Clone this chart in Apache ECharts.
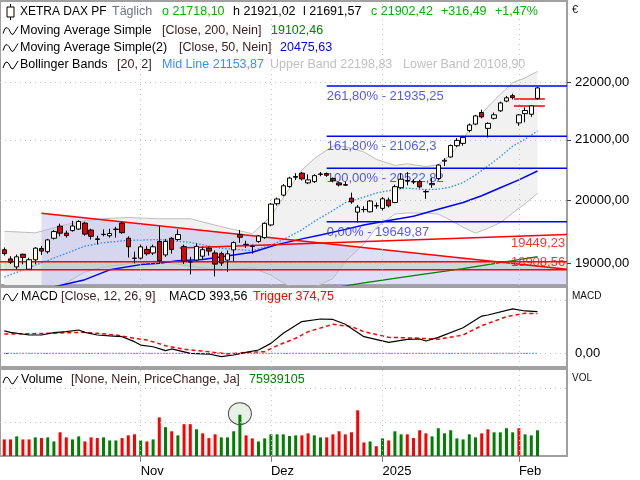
<!DOCTYPE html>
<html><head><meta charset="utf-8">
<script src="https://cdn.jsdelivr.net/npm/echarts@6/dist/echarts.min.js"></script>
<style>html,body{margin:0;padding:0;background:#fff}#c{width:640px;height:480px}</style>
</head><body><div id="c"></div>
<script>
// ---------------- DATA ----------------
const dates = [
 '2024-10-02','2024-10-03','2024-10-04','2024-10-07','2024-10-08','2024-10-09','2024-10-10','2024-10-11','2024-10-14','2024-10-15','2024-10-16','2024-10-17','2024-10-18','2024-10-21','2024-10-22','2024-10-23','2024-10-24','2024-10-25','2024-10-28','2024-10-29','2024-10-30','2024-10-31',
 '2024-11-01','2024-11-04','2024-11-05','2024-11-06','2024-11-07','2024-11-08','2024-11-11','2024-11-12','2024-11-13','2024-11-14','2024-11-15','2024-11-18','2024-11-19','2024-11-20','2024-11-21','2024-11-22','2024-11-25','2024-11-26','2024-11-27','2024-11-28','2024-11-29',
 '2024-12-02','2024-12-03','2024-12-04','2024-12-05','2024-12-06','2024-12-09','2024-12-10','2024-12-11','2024-12-12','2024-12-13','2024-12-16','2024-12-17','2024-12-18','2024-12-19','2024-12-20','2024-12-23','2024-12-27','2024-12-30',
 '2025-01-02','2025-01-03','2025-01-06','2025-01-07','2025-01-08','2025-01-09','2025-01-10','2025-01-13','2025-01-14','2025-01-15','2025-01-16','2025-01-17','2025-01-20','2025-01-21','2025-01-22','2025-01-23','2025-01-24','2025-01-27','2025-01-28','2025-01-29','2025-01-30','2025-01-31',
 '2025-02-03','2025-02-04','2025-02-05','2025-02-06'];
// [open, close, low, high]
const candles = [
 [19210,19150,19120,19245],[19068,19018,18990,19110],[18945,19100,18910,19135],[19140,19090,18985,19150],[18910,19055,18900,19085],
 [19055,19235,18990,19250],[19228,19190,19130,19270],[19180,19364,19150,19380],[19390,19495,19370,19520],[19580,19470,19420,19620],
 [19470,19432,19400,19510],[19510,19583,19495,19665],[19535,19655,19520,19675],[19630,19455,19430,19650],[19520,19421,19370,19540],
 [19380,19372,19290,19430],[19452,19448,19420,19530],[19430,19464,19400,19540],[19530,19533,19400,19570],[19630,19478,19460,19650],
 [19390,19257,19090,19420],[19080,19077,19000,19180],[19080,19255,19060,19290],[19215,19148,19120,19270],[19160,19256,19130,19290],
 [19340,19039,18995,19580],[19130,19340,19100,19380],[19390,19215,19150,19410],[19370,19448,19350,19530],[19260,19033,18990,19290],
 [19020,19024,18830,19100],[19050,19263,19020,19310],[19110,19211,19054,19260],[19234,19189,19120,19260],[19160,18988,18800,19200],
 [19150,19004,18960,19180],[19050,19146,18870,19200],[19208,19322,19030,19340],[19450,19406,19320,19520],[19290,19295,19240,19350],
 [19265,19262,19150,19290],[19340,19426,19320,19440],[19400,19626,19380,19640],[19600,19934,19580,19950],[19940,20017,19910,20040],
 [20080,20232,20060,20260],[20220,20359,20200,20380],[20372,20385,20330,20440],[20440,20346,20320,20460],[20280,20329,20260,20420],
 [20300,20399,20280,20420],[20420,20427,20390,20460],[20435,20406,20380,20450],[20350,20314,20290,20370],[20280,20246,20220,20300],
 [20250,20243,20230,20300],[20030,19970,19940,20120],[19805,19885,19640,19920],[19845,19848,19800,19900],[19810,19984,19800,20000],
 [19905,19909,19860,19960],[19865,20020,19830,20050],[20000,19906,19880,20040],[19960,20217,19950,20250],[20200,20340,20180,20440],
 [20310,20320,20240,20460],[20300,20295,20260,20340],[20300,20215,20190,20330],[20140,20133,20020,20170],[20250,20271,20200,20360],
 [20350,20575,20330,20590],[20640,20655,20560,20690],[20710,20903,20700,20920],[20900,20990,20880,21030],[20940,21042,20900,21070],
 [21160,21254,21130,21280],[21270,21411,21250,21430],[21470,21394,21370,21520],[21196,21282,21040,21300],[21370,21430,21350,21470],
 [21500,21637,21480,21660],[21670,21727,21650,21760],[21765,21732,21700,21800],[21290,21428,21240,21440],[21450,21506,21300,21560],
 [21440,21585.93,21395,21600],[21718.10,21902.42,21691.57,21921.02]];
const prevCloseBefore = 19213;
// volume in millions
const volumeMio = [49,49,58,49,49,55,53,55,43,70,55,49,58,43,55,53,55,46,46,53,61,64,46,43,49,114,85,73,61,94,94,79,67,53,64,55,55,73,122,61,52,43,52,64,64,64,59,61,61,67,61,55,55,64,73,64,70,135,40,43,29,52,46,73,64,64,53,76,67,58,82,67,76,52,49,64,55,67,79,70,70,82,70,82,64,61,75.939105];
const sma200 = [[50,18580],[58,18700],[66,18810],[74,18920],[80,19010],[86,19102.46]];
const sma50 = [[8,18640],[13,18750],[17,18900],[22,18980],[25,19000],[28,19040],[32,19060],[37,19130],[40,19170],[44,19290],[48,19380],[51,19440],[55,19530],[58,19600],[62,19670],[66,19740],[70,19850],[74,19960],[77,20070],[80,20200],[83,20330],[86,20475.63]];
const bbIdx   = [0,5,10,13,16,20,25,30,35,40,43,45,48,50,53,55,58,60,63,65,68,70,72,74,76,78,80,82,84,86];
const bbMid   = [18790,18971,19154,19267,19320,19356,19370,19325,19234,19196,19280,19369,19523,19657,19831,19956,20047,20114,20172,20193,20170,20176,20212,20286,20409,20558,20715,20893,21010,21153.87];
const bbUpper = [19500,19475,19606,19666,19700,19718,19698,19699,19573,19461,19740,20037,20491,20683,20895,20884,20795,20670,20570,20595,20550,20580,20748,21008,21347,21568,21793,21995,22080,22198.83];
const bbLower = [18080,18466,18702,18866,18940,18994,19042,18951,18894,18931,18820,18701,18555,18631,18767,19028,19299,19558,19774,19791,19790,19772,19676,19564,19471,19548,19636,19791,19940,20108.90];
const macd = [[0,212],[1,198],[4,173],[6,173],[8,195],[10,204],[12,220],[13,198],[15,173],[17,164],[19,157],[21,110],[22,78],[24,62],[26,25],[27,41],[30,0],[33,-7],[35,-32],[37,-16],[39,9],[41,31],[43,94],[45,189],[48,300],[51,324],[53,320],[55,274],[58,157],[62,104],[65,132],[67,135],[68,116],[70,151],[74,242],[77,352],[78,362],[82,419],[84,400],[86,393.56]];
const trigger = [[0,182],[4,185],[7,189],[13,198],[15,189],[18,173],[21,142],[23,126],[26,72],[29,38],[33,15],[36,-7],[39,9],[42,15],[44,72],[47,142],[49,204],[53,274],[56,252],[58,204],[62,151],[67,142],[70,132],[74,173],[77,261],[81,346],[84,378],[86,374.75]];
const fibPct = [261.8,161.8,100,0];
const fibVal = [21935.25,21062.3,20522.82,19649.87];
const fibStart = 52;
const chanUpper = [[6,19787],[90.76,18908.56]];
const riseLine = [[28.3,19239],[90.76,19449.23]];
const supportTop = 19025, supportBottom = 18900;
const gapBox = {from:82.2, to:87.2, top:21705, bottom:21583};
const priceTicks = [19000,20000,21000,22000];
const markedVolIdx = 38;

// ---------------- LAYOUT ----------------
const xMin = -0.6935, xMax = 90.76;
const priceMin = 18669, priceMax = 23501;
const fmt = v => v.toFixed(2).replace('.', ',');
const GREEN = '#00b400', RED = '#ff0000';
const monthNames = ['Jan','Feb','Mär','Apr','Mai','Jun','Jul','Aug','Sep','Okt','Nov','Dez'];
const monthIdx = [], monthLbl = {};
dates.forEach((d, i) => {
  if (i > 0 && d.slice(5,7) !== dates[i-1].slice(5,7)) {
    monthIdx.push(i);
    const m = +d.slice(5,7);
    monthLbl[i] = m === 1 ? d.slice(0,4) : monthNames[m-1];
  }
});
const closes = candles.map(c => c[1]);
const volColors = closes.map((c, i) => c > (i ? closes[i-1] : prevCloseBefore) ? '#008000' : RED);

const dotted = {color:'#c4c4c4', type:[1,4], width:1};
function gridLines(yVals) {
  return {silent:true, symbol:'none', label:{show:false}, lineStyle:dotted, animation:false,
    data: [...yVals.map(v => ({yAxis:v})), ...monthIdx.map(i => ({xAxis:i}))]};
}
function poly(pts, fill, z) {
  return {type:'custom', xAxisIndex:0, yAxisIndex:0, z, clip:true, silent:true, data:[[pts[0][0], pts[0][1]]],
    renderItem:(p, api) => ({type:'polygon', shape:{points: pts.map(q => api.coord(q))}, style:{fill}})};
}
function seg(pts, color, width, z, extra) {
  return Object.assign({type:'line', xAxisIndex:0, yAxisIndex:0, data:pts, showSymbol:false, silent:true, z,
    lineStyle:{color, width}, animation:false}, extra || {});
}

const upperPts = bbIdx.map((i,k) => [i, bbUpper[k]]);
const lowerPts = bbIdx.map((i,k) => [i, bbLower[k]]);
const midPts = bbIdx.map((i,k) => [i, bbMid[k]]);

const series = [];
series.push(poly([...upperPts, ...lowerPts.slice().reverse()], '#f1f1f1', 1));
series.push(poly([chanUpper[0], chanUpper[1], [chanUpper[1][0], priceMin], [chanUpper[0][0], priceMin]], 'rgba(165,165,235,0.36)', 1.1));
series.push(poly([[xMin, supportTop],[xMax, supportTop],[xMax, supportBottom],[xMin, supportBottom]], 'rgba(150,205,150,0.32)', 1.2));
series.push(seg(upperPts, '#bdbdbd', 1, 2, {markLine: gridLines(priceTicks)}));
series.push(seg(lowerPts, '#bdbdbd', 1, 2));
series.push(seg(midPts, '#2b8cff', 1.3, 3, {lineStyle:{color:'#2b8cff', width:1.3, type:[1.5,1.8]}}));
series.push(seg(sma200, '#008000', 1.3, 3));
series.push(seg(sma50, '#0000ff', 1.5, 3));
series.push(seg(chanUpper, RED, 1.5, 3));
series.push(seg(riseLine, RED, 1.5, 3));
series.push(seg([[xMin, supportTop],[xMax, supportTop]], RED, 1.5, 3));
series.push(seg([[xMin, supportBottom],[xMax, supportBottom]], RED, 1.5, 3));
series.push(seg([[gapBox.from, gapBox.top],[gapBox.to, gapBox.top]], RED, 1.5, 3));
series.push(seg([[gapBox.from, gapBox.bottom],[gapBox.to, gapBox.bottom]], RED, 1.5, 3));
fibVal.forEach(v => series.push(seg([[fibStart, v],[xMax, v]], '#0000ff', 1.5, 3)));
series.push({type:'scatter', xAxisIndex:0, yAxisIndex:0, symbolSize:0, silent:true, z:4,
  data: fibVal.map((v,k) => ({value:[fibStart, v], label:{formatter: fmt(fibPct[k]) + '% - ' + String(v).replace('.', ',')}})),
  label:{show:true, position:[0,4], align:'left', verticalAlign:'top', color:'#2a2aff', fontSize:13, fontFamily:'Liberation Sans'}});
series.push({type:'scatter', xAxisIndex:0, yAxisIndex:0, symbolSize:0, silent:true, z:6,
  data: [{value:[xMax-0.3, riseLine[1][1]], label:{formatter: fmt(riseLine[1][1]), position:[0,9]}},
         {value:[xMax-0.3, chanUpper[1][1]], label:{formatter: fmt(chanUpper[1][1]), position:[0,-7]}}],
  label:{show:true, align:'right', verticalAlign:'middle', color:RED, fontSize:13, fontFamily:'Liberation Sans'}});
series.push({type:'candlestick', xAxisIndex:0, yAxisIndex:0, z:5, barWidth:5, silent:true,
  dimensions:['i','open','close','lowest','highest'], encode:{x:'i', y:['open','close','lowest','highest']},
  data: candles.map((c,i) => [i, c[0], c[1], c[2], c[3]]),
  itemStyle:{color:'#fffff2', color0:'#e00000', borderColor:'#000', borderColor0:'#000', borderWidth:1}});
// MACD
series.push({type:'line', xAxisIndex:1, yAxisIndex:2, data:[[0,0],[86,0]], showSymbol:false, silent:true, z:2,
  lineStyle:{color:'#1e90ff', width:1.2, type:[1.5,1.5]}, markLine: gridLines([0,500])});
series.push({type:'line', xAxisIndex:1, yAxisIndex:2, data:trigger, showSymbol:false, silent:true, z:3,
  lineStyle:{color:RED, width:1.5, type:[4,3]}});
series.push({type:'line', xAxisIndex:1, yAxisIndex:2, data:macd, showSymbol:false, silent:true, z:4,
  lineStyle:{color:'#000', width:1.2}});
// Volume
series.push({type:'scatter', xAxisIndex:2, yAxisIndex:3, z:1, silent:true, symbol:'circle', symbolSize:[23,22],
  data:[[markedVolIdx, volumeMio[markedVolIdx]+3]], itemStyle:{color:'#e2ece2', borderColor:'#202020', borderWidth:1}});
series.push({type:'bar', xAxisIndex:2, yAxisIndex:3, z:2, barWidth:3, silent:true,
  data: volumeMio.map((v,i) => ({value:[i, v], itemStyle:{color: volColors[i]}})), markLine: gridLines([100,200])});

const frame = {show:true, borderColor:'#a0a0a0', borderWidth:2, backgroundColor:'transparent'};
const option = {
  animation:false,
  backgroundColor:'#fff',
  grid:[Object.assign({left:0, top:1, width:567, height:284}, frame),
        Object.assign({left:0, top:287, width:567, height:80}, frame),
        Object.assign({left:0, top:369, width:567, height:87}, frame)],
  xAxis:[0,1,2].map(g => ({type:'value', gridIndex:g, min:xMin, max:xMax, splitLine:{show:false}, axisLine:{show:false},
    axisTick: g===2 ? {show:true, customValues:monthIdx, length:6, lineStyle:{color:'#808080'}} : {show:false},
    axisLabel: g===2 ? {show:true, customValues:monthIdx, formatter:v => monthLbl[v] || '', align:'left', margin:9, color:'#000', fontSize:13, fontFamily:'Liberation Sans'} : {show:false}})),
  yAxis:[
    {type:'log', gridIndex:0, min:priceMin, max:priceMax, show:false},
    {type:'value', gridIndex:0, position:'right', min:Math.log(priceMin), max:Math.log(priceMax), splitLine:{show:false}, axisLine:{show:false},
      axisTick:{show:true, customValues:priceTicks.map(Math.log), length:4, lineStyle:{color:'#404040'}},
      axisLabel:{customValues:priceTicks.map(Math.log), formatter:v => fmt(Math.round(Math.exp(v))), color:'#000', fontSize:13, margin:8, fontFamily:'Liberation Sans'}},
    {type:'value', gridIndex:1, position:'right', min:-129.5, max:626.5, splitLine:{show:false}, axisLine:{show:false},
      axisTick:{show:true, customValues:[0], length:4, lineStyle:{color:'#404040'}},
      axisLabel:{customValues:[0], formatter:v => fmt(v), color:'#000', fontSize:13, margin:8, fontFamily:'Liberation Sans'}},
    {type:'value', gridIndex:2, position:'right', min:0, max:257, show:false}
  ],
  series
};

// header texts
const last = candles[candles.length-1], prevC = candles[candles.length-2][1];
const chg = last[1] - prevC, pct = chg / prevC * 100;
const F = '"Liberation Sans", Arial, sans-serif';
function T(x, y, text, fill, size) {
  return {type:'text', x, y, z:100, silent:true, style:{text, fill, fontSize:size||12.5, fontFamily:F, verticalAlign:'middle', align:'left'}};
}
function wave(x, y) {
  return {type:'polyline', z:100, silent:true, shape:{points:[[x,y+3],[x+2,y-2],[x+4,y-3],[x+6,y-1],[x+8,y+3],[x+10,y+4],[x+12,y+1],[x+15,y-4]]}, style:{stroke:'#000', lineWidth:1, fill:null}};
}
const g = [
  {type:'line', z:100, silent:true, shape:{x1:10.5,y1:4,x2:10.5,y2:20}, style:{stroke:'#000', lineWidth:1}},
  {type:'rect', z:101, silent:true, shape:{x:7,y:7,width:7,height:10}, style:{fill:'#fffff2', stroke:'#000', lineWidth:1}},
  T(20,12,'XETRA DAX PF','#000',12), T(112,12,'Täglich','#70708a'), T(162,12,'o ' + fmt(last[0]), GREEN),
  T(233,12,'h ' + fmt(last[3]),'#000'), T(303,12,'l ' + fmt(last[2]),'#000'), T(371,12,'c ' + fmt(last[1]), GREEN),
  T(441,12,(chg>=0?'+':'') + fmt(chg), GREEN), T(495,12,(pct>=0?'+':'') + fmt(pct) + '%', GREEN),
  wave(3,30.5), T(20,30.5,'Moving Average Simple','#000'), T(162,30.5,'[Close, 200, Nein]','#402020'), T(271,30.5,fmt(sma200[sma200.length-1][1]),'#008000'),
  wave(3,47.5), T(20,47.5,'Moving Average Simple(2)','#000'), T(179,47.5,'[Close, 50, Nein]','#402020'), T(280,47.5,fmt(sma50[sma50.length-1][1]),'#0000ff'),
  wave(3,65), T(20,65,'Bollinger Bands','#000'), T(117,65,'[20, 2]','#402020'), T(162,65,'Mid Line ' + fmt(bbMid[bbMid.length-1]),'#3c8cff'),
  T(270,65,'Upper Band ' + fmt(bbUpper[bbUpper.length-1]),'#c0c0c0'), T(403,65,'Lower Band ' + fmt(bbLower[bbLower.length-1]),'#c0c0c0'),
  wave(3,297), T(21,297,'MACD','#000'), T(61,297,'[Close, 12, 26, 9]','#402020'), T(169,297,'MACD ' + fmt(macd[macd.length-1][1]),'#000'),
  T(253,297,'Trigger ' + fmt(trigger[trigger.length-1][1]), RED),
  wave(3,380), T(21,380,'Volume','#000'), T(71,380,'[None, Nein, PriceChange, Ja]','#402020'),
  T(249,380,String(Math.round(volumeMio[volumeMio.length-1]*1e6)),'#008000'),
  T(572,10,'€','#111',11), T(572,296,'MACD','#111',10), T(572,378,'VOL','#111',10)
];
option.graphic = {elements:g};
const chart = echarts.init(document.getElementById('c'), null, {renderer:'canvas'});
chart.setOption(option);
</script></body></html>
